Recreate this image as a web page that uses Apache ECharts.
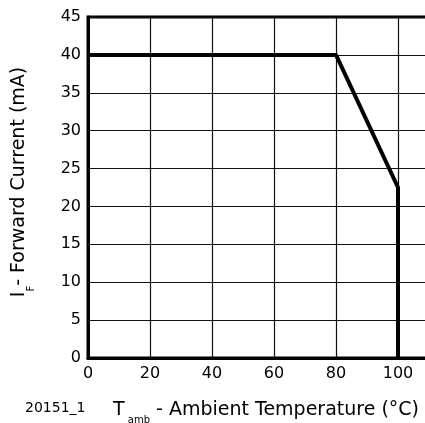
<!DOCTYPE html>
<html>
<head>
<meta charset="utf-8">
<script src="https://cdn.jsdelivr.net/npm/echarts@6/dist/echarts.min.js"></script>
<style>html,body{margin:0;padding:0;background:#fff;}#c{width:425px;height:423px;}</style>
</head>
<body>
<div id="c"></div>
<script>
// Data
var temperature = [0, 80, 100, 100];
var forwardCurrent = [40, 40, 22.5, 0];
var xTicks = [0, 20, 40, 60, 80, 100];
var yTicks = [0, 5, 10, 15, 20, 25, 30, 35, 40, 45];
var figureId = '20151_1';

var FONT = '"DejaVu Sans", sans-serif';
var chart = echarts.init(document.getElementById('c'), null, {renderer: 'canvas'});
var pts = temperature.map(function (t, i) { return [t, forwardCurrent[i]]; });

chart.setOption({
  animation: false,
  backgroundColor: '#fff',
  grid: {left: 88, top: 17, width: 341, height: 341, outerBoundsMode: 'none', containLabel: false,
    show: true, borderColor: '#000', borderWidth: 3, backgroundColor: 'transparent'},
  xAxis: {
    type: 'value', min: 0, max: 110, interval: 20,
    axisLine: {show: true, onZero: false, lineStyle: {color: '#000', width: 3}},
    axisTick: {show: false},
    splitLine: {show: true, lineStyle: {color: '#111', width: 1.2}},
    axisLabel: {showMaxLabel: false, margin: 8, color: '#000', fontSize: 16, fontFamily: FONT,
      formatter: function (v) { return xTicks.indexOf(v) >= 0 ? String(v) : ''; }}
  },
  yAxis: {
    type: 'value', min: 0, max: 45, interval: 5,
    axisLine: {show: true, onZero: false, lineStyle: {color: '#000', width: 3}},
    axisTick: {show: false},
    splitLine: {show: true, lineStyle: {color: '#111', width: 1.2}},
    axisLabel: {margin: 7, color: '#000', fontSize: 16, fontFamily: FONT,
      formatter: function (v) { return yTicks.indexOf(v) >= 0 ? String(v) : ''; }}
  },
  series: [{
    type: 'line', data: pts, showSymbol: false, symbol: 'none',
    lineStyle: {color: '#000', width: 4}, clip: false
  }],
  graphic: [
    {
      type: 'text', left: 25, top: 401,
      style: {text: figureId, font: '14px ' + FONT, fill: '#000'}
    },
    {
      type: 'text', x: 113, y: 425,
      style: {
        text: '{m|T}{s| amb}{m| - Ambient Temperature (°C)}',
        textVerticalAlign: 'bottom',
        rich: {
          m: {fontSize: 19, fontFamily: FONT, fill: '#000', lineHeight: 20, verticalAlign: 'top'},
          s: {fontSize: 10, fontFamily: FONT, fill: '#000', lineHeight: 24, verticalAlign: 'bottom'}
        },
        fill: '#000'
      }
    },
    {
      type: 'text', x: 23, y: 182, rotation: Math.PI / 2,
      style: {
        text: '{m|I}{s|F}{m|- Forward Current (mA)}',
        align: 'center', verticalAlign: 'middle',
        rich: {
          m: {fontSize: 19, fontFamily: FONT, fill: '#000', lineHeight: 20, verticalAlign: 'top'},
          s: {fontSize: 10, fontFamily: FONT, fill: '#000', lineHeight: 26, verticalAlign: 'bottom'}
        },
        fill: '#000'
      }
    }
  ]
});
</script>
</body>
</html>
